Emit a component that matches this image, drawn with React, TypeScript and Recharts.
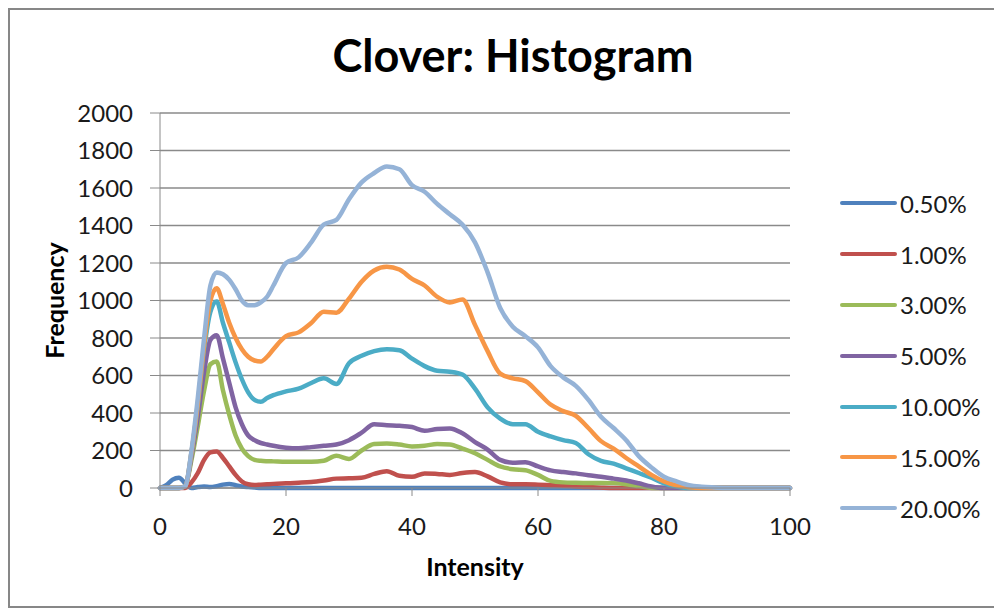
import React from 'react';
import {
  LineChart,
  Line,
  XAxis,
  YAxis,
  CartesianGrid,
  Legend
} from 'recharts';

// intensity bins (x axis)
const intensity = [
  0, 1, 2, 3, 4, 5, 6, 7, 8, 9, 10, 11, 12, 13, 14, 15, 16, 17, 18,
  20, 22, 24, 26, 28, 30, 32, 34, 36, 38, 40, 42, 44, 46, 48, 50, 52, 54, 56, 58,
  60, 62, 64, 66, 68, 70, 72, 74, 76, 78, 80, 82, 84, 86, 88, 90,
  95, 100
];

const freq05 = [
  0, 15, 45, 55, 25, 0, 5, 8, 5, 10, 18, 22, 15, 8, 5, 3, 0, 0, 0,
  0, 0, 0, 0, 0, 0, 0, 0, 0, 0, 0, 0, 0, 0, 0, 0, 0, 0, 0, 0,
  0, 0, 0, 0, 0, 0, 0, 0, 0, 0, 0, 0, 0, 0, 0, 0,
  0, 0
];
const freq1 = [
  0, 0, 0, 0, 0, 30, 80, 150, 190, 195, 160, 115, 70, 35, 20, 16, 18, 20, 22,
  25, 28, 32, 40, 50, 52, 55, 75, 90, 65, 60, 78, 75, 70, 80, 85, 62, 30, 20, 20,
  18, 15, 12, 8, 5, 2, 0, 0, 0, 0, 0, 0, 0, 0, 0, 0,
  0, 0
];
const freq3 = [
  0, 0, 0, 0, 10, 150, 330, 520, 660, 675, 520, 390, 280, 210, 170, 150, 145, 143, 142,
  140, 140, 140, 145, 172, 155, 200, 235, 238, 232, 222, 225, 235, 232, 210, 185, 150, 115, 100, 95,
  70, 38, 30, 28, 27, 27, 26, 20, 10, 0, 0, 0, 0, 0, 0, 0,
  0, 0
];
const freq5 = [
  0, 0, 0, 0, 10, 170, 380, 620, 790, 815, 690, 560, 430, 340, 280, 255, 240, 232, 225,
  215, 212, 218, 225, 232, 255, 295, 340, 335, 332, 325, 305, 315, 318, 292, 245, 205, 150, 135, 138,
  115, 94, 85, 78, 68, 60, 50, 40, 25, 8, 0, 0, 0, 0, 0, 0,
  0, 0
];
const freq10 = [
  0, 0, 0, 0, 10, 190, 440, 740, 940, 995, 880, 775, 670, 580, 510, 470, 460, 480, 495,
  515, 530, 560, 585, 555, 665, 705, 730, 740, 735, 690, 650, 625, 620, 605, 530, 430, 370, 340, 340,
  300, 275, 255, 240, 180, 145, 130, 105, 80, 55, 25, 8, 0, 0, 0, 0,
  0, 0
];
const freq15 = [
  0, 0, 0, 0, 10, 190, 450, 760, 1000, 1065, 980, 880, 800, 740, 700, 680, 675, 700, 740,
  810, 830, 880, 940, 935, 1010, 1100, 1160, 1180, 1165, 1115, 1080, 1020, 990, 1005, 870, 730, 610, 585, 570,
  510, 445, 410, 385, 320, 250, 210, 160, 115, 70, 35, 14, 4, 0, 0, 0,
  0, 0
];
const freq20 = [
  0, 0, 0, 0, 10, 200, 480, 800, 1080, 1150, 1140, 1110, 1060, 1000, 975, 975, 990, 1020, 1080,
  1200, 1230, 1310, 1405, 1430, 1540, 1630, 1680, 1715, 1700, 1615, 1580, 1515, 1460, 1405, 1310, 1150, 960, 860, 810,
  750, 650, 590, 545, 470, 380, 320, 255, 170, 110, 60, 35, 15, 7, 3, 0,
  0, 0
];

const seriesLabels = ['0.50%', '1.00%', '3.00%', '5.00%', '10.00%', '15.00%', '20.00%'];
const seriesColors = ['#4F81BD', '#C0504D', '#9BBB59', '#8064A2', '#4BACC6', '#F79646', '#95B3D7'];
const seriesValues = [freq05, freq1, freq3, freq5, freq10, freq15, freq20];

const yTicks = [0, 200, 400, 600, 800, 1000, 1200, 1400, 1600, 1800, 2000];
const xTicks = [0, 20, 40, 60, 80, 100];

const data = intensity.map((x, i) => {
  const row: Record<string, number> = { x };
  seriesValues.forEach((vals, s) => {
    row['s' + s] = vals[i];
  });
  return row;
});

const FONT = 'Lato, "Open Sans", sans-serif';

const renderLegend = () => (
  <div style={{ fontFamily: FONT }}>
    {seriesLabels.map((label, i) => (
      <div key={label} style={{ display: 'flex', alignItems: 'center', height: 50.8 }}>
        <div
          style={{
            width: 57,
            height: 4,
            borderRadius: 2,
            background: seriesColors[i],
            marginRight: 3
          }}
        />
        <span style={{ fontSize: 24, color: '#1a1a1a' }}>{label}</span>
      </div>
    ))}
  </div>
);

const App: React.FC = () => {
  return (
    <div
      style={{
        width: 986,
        height: 596,
        borderLeft: '2px solid #878787',
        borderTop: '2px solid #878787',
        borderBottom: '2px solid #878787',
        background: '#fff'
      }}
    >
      <LineChart
        width={984}
        height={596}
        data={data}
        margin={{ top: 103, right: 204, bottom: 48, left: 20 }}
      >
        <text
          x={503}
          y={62}
          textAnchor="middle"
          style={{ fontFamily: FONT, fontWeight: 700, fontSize: 45, fill: '#000' }}
        >
          Clover: Histogram
        </text>
        <CartesianGrid vertical={false} stroke="#8a8a8a" strokeWidth={1.5} />
        <XAxis
          dataKey="x"
          type="number"
          domain={[0, 100]}
          ticks={xTicks}
          height={70}
          tickSize={8}
          tickMargin={22}
          stroke="#8a8a8a"
          tick={{ fill: '#1a1a1a', fontSize: 24, fontFamily: FONT }}
          label={{
            value: 'Intensity',
            position: 'bottom',
            offset: 0,
            style: { fontFamily: FONT, fontWeight: 700, fontSize: 25, fill: '#000' }
          }}
        />
        <YAxis
          domain={[0, 2000]}
          ticks={yTicks}
          width={130}
          tickSize={10}
          tickMargin={17}
          stroke="#8a8a8a"
          tick={{ fill: '#1a1a1a', fontSize: 24, fontFamily: FONT }}
          label={{
            value: 'Frequency',
            angle: -90,
            position: 'insideLeft',
            offset: 25,
            style: { textAnchor: 'middle', fontFamily: FONT, fontWeight: 700, fontSize: 25, fill: '#000' }
          }}
        />
        {/* centered/middle so the legend does not eat into the plot area */}
        <Legend
          layout="vertical"
          align="center"
          verticalAlign="middle"
          wrapperStyle={{ top: 168, left: 830, width: 150 }}
          content={renderLegend}
        />
        {seriesLabels.map((label, i) => (
          <Line
            key={label}
            type="monotone"
            dataKey={'s' + i}
            name={label}
            stroke={seriesColors[i]}
            strokeWidth={4.5}
            strokeLinecap="round"
            strokeLinejoin="round"
            dot={false}
            activeDot={false}
            isAnimationActive={false}
          />
        ))}
      </LineChart>
    </div>
  );
};

export default App;
